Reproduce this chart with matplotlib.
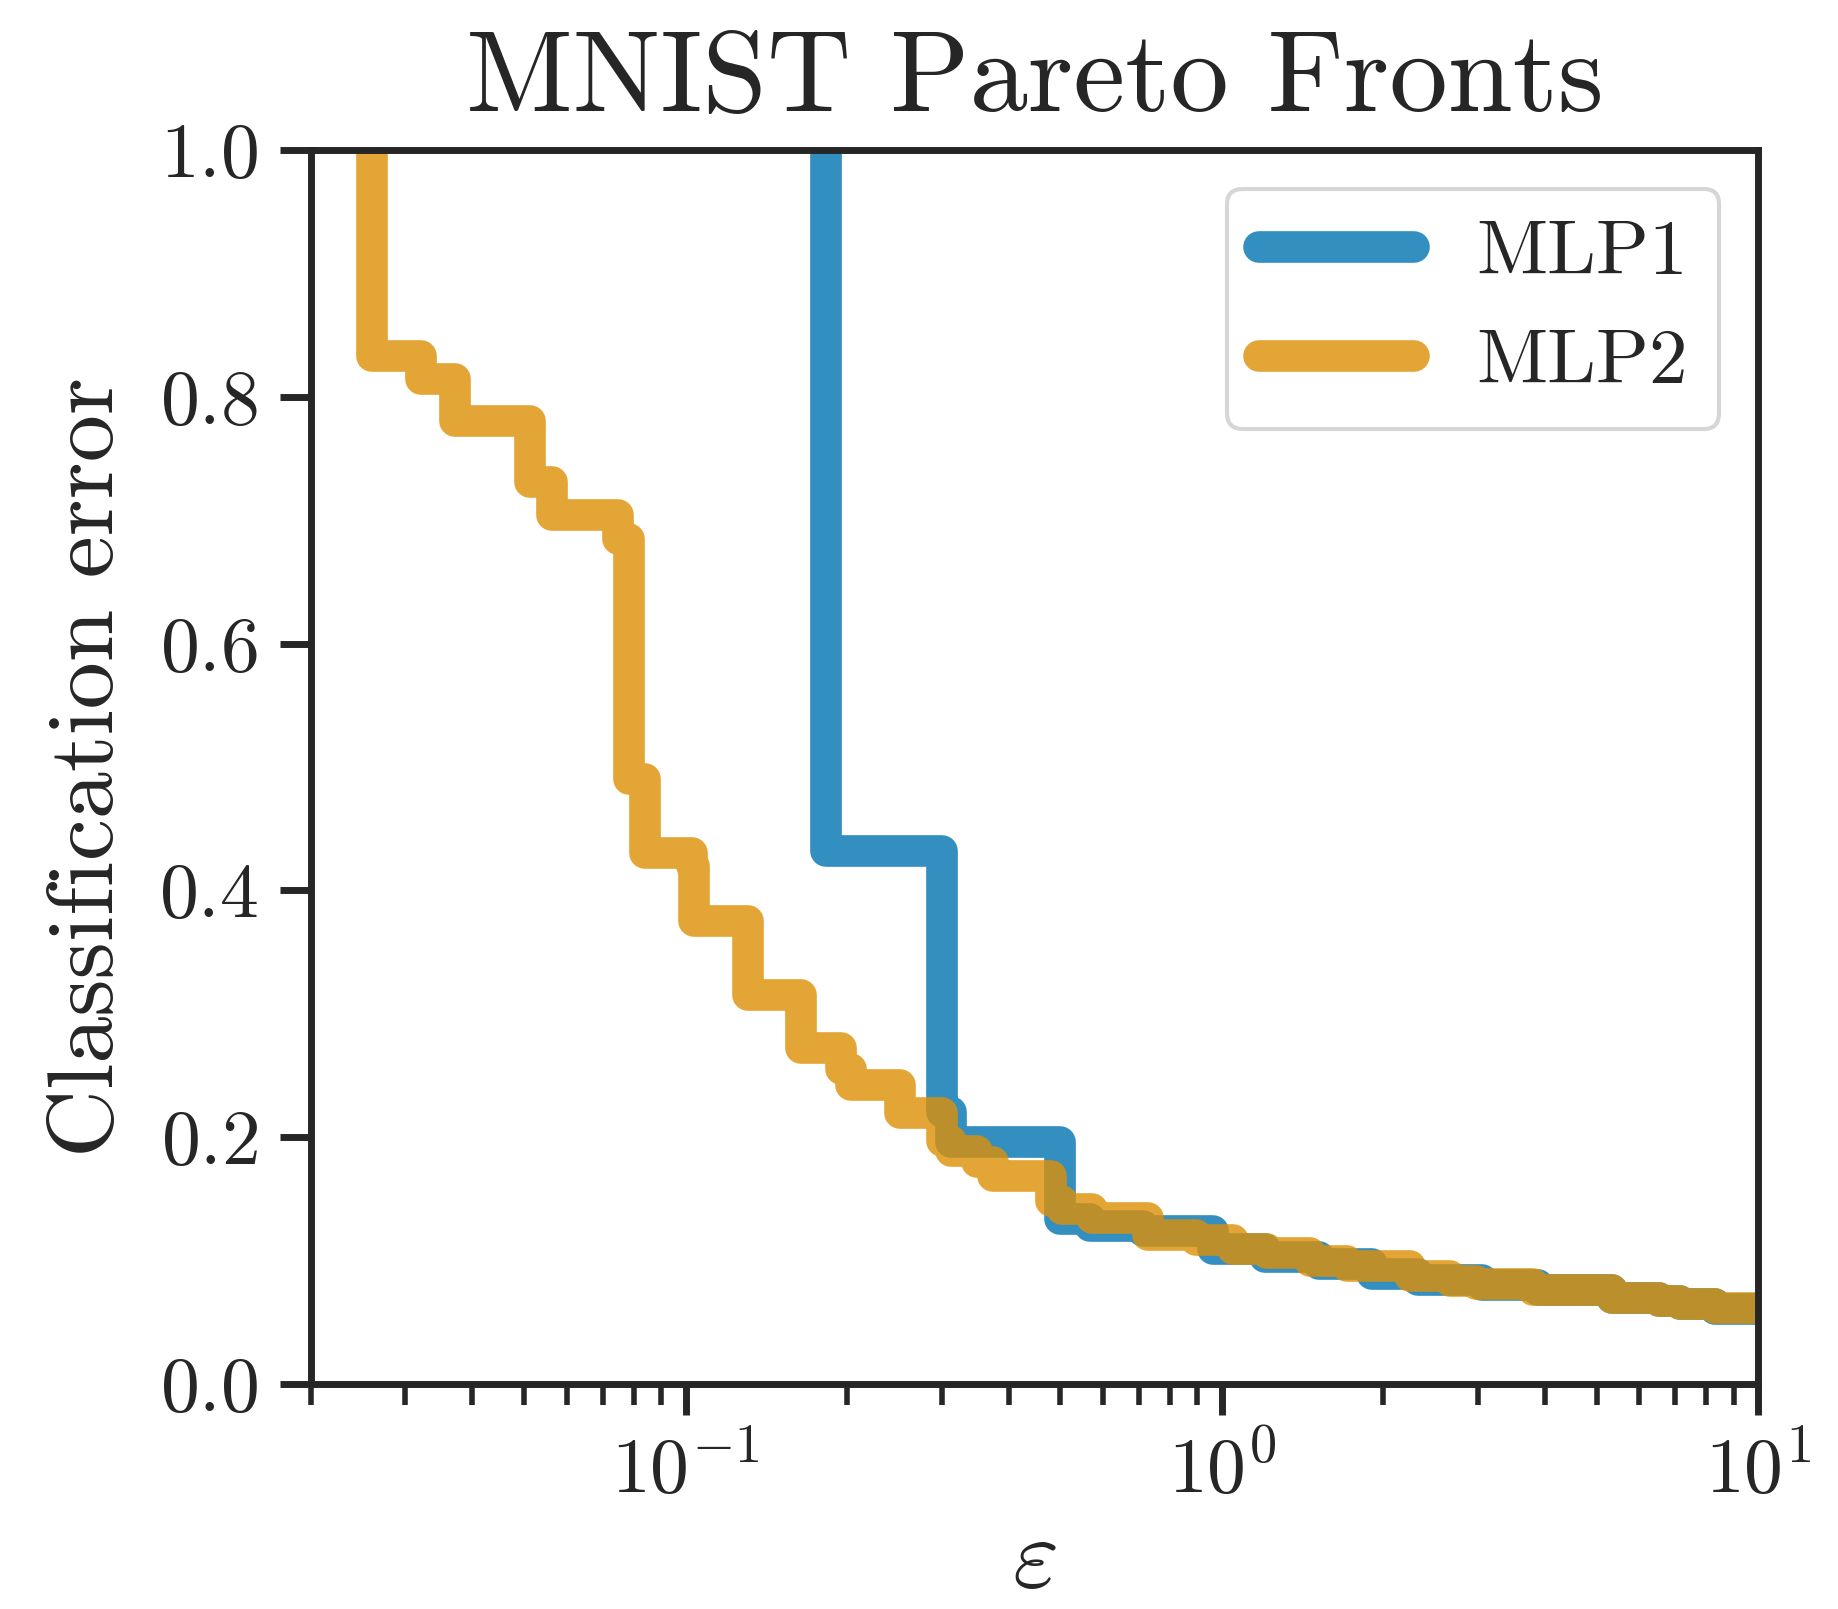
import matplotlib
matplotlib.use('Agg')
import matplotlib.pyplot as plt

# Pareto fronts: epsilon where each drop happens, error level after it
mlp1_eps = [0.183, 0.301, 0.312, 0.500, 0.567, 0.712, 0.964, 1.205, 1.519, 1.905,
            2.326, 3.053, 3.886, 5.34, 6.53, 7.16, 8.32, 10.0]
mlp1_err = [1.0, 0.432, 0.220, 0.196, 0.134, 0.128, 0.124, 0.109, 0.103, 0.097,
            0.089, 0.084, 0.0805, 0.076, 0.070, 0.067, 0.065, 0.061]

mlp2_eps = [0.0260, 0.0321, 0.0371, 0.0512, 0.0562, 0.0749, 0.0785, 0.0841, 0.1026, 0.1035,
            0.1306, 0.1641, 0.195, 0.203, 0.2508, 0.301, 0.312, 0.349, 0.374, 0.481,
            0.503, 0.572, 0.7296, 0.895, 1.05, 1.212, 1.459, 1.708, 2.241, 2.66,
            2.982, 3.80, 5.34, 6.53, 7.16, 8.32, 10.0]
mlp2_err = [1.0, 0.833, 0.814, 0.780, 0.731, 0.704, 0.685, 0.490, 0.430, 0.420,
            0.375, 0.315, 0.272, 0.255, 0.242, 0.2195, 0.197, 0.189, 0.1795, 0.1686,
            0.148, 0.1416, 0.1348, 0.121, 0.1167, 0.1094, 0.1059, 0.0997, 0.0956, 0.0875,
            0.0835, 0.0808, 0.0762, 0.0700, 0.0673, 0.0648, 0.0613]

names = ['MLP1', 'MLP2']
colors = ['#0173B2', '#DE8F05']

ink = '#262626'
plt.rcParams.update({
    'font.family': ['cmr10', 'DejaVu Serif'],
    'mathtext.fontset': 'cm',
    'axes.formatter.use_mathtext': True,
    'text.color': ink,
    'axes.edgecolor': ink,
    'axes.labelcolor': ink,
    'xtick.color': ink,
    'ytick.color': ink,
    'axes.linewidth': 2.5,
    'xtick.major.width': 2.5,
    'ytick.major.width': 2.5,
    'xtick.minor.width': 2.0,
    'xtick.major.size': 11,
    'ytick.major.size': 11,
    'xtick.minor.size': 7.5,
    'xtick.direction': 'out',
    'ytick.direction': 'out',
})

fig = plt.figure(figsize=(9.19, 8.045), dpi=200)
ax = fig.add_axes([0.1692, 0.1399, 0.7873, 0.7669])

for eps, err, name, c in zip([mlp1_eps, mlp2_eps], [mlp1_err, mlp2_err], names, colors):
    ax.step(eps, err, where='pre', color=c, alpha=0.8, lw=11.4,
            solid_capstyle='round', solid_joinstyle='round', label=name)

ax.set_xscale('log')
ax.set_xlim(0.02, 10)
ax.set_ylim(0, 1)
ax.set_yticks([0.0, 0.2, 0.4, 0.6, 0.8, 1.0])
ax.tick_params(axis='both', labelsize=28)
ax.tick_params(axis='y', pad=8)
ax.tick_params(axis='x', which='major', pad=7)

ax.set_title('MNIST Pareto Fronts', fontsize=42, pad=14)
ax.set_ylabel('Classification error', fontsize=34, labelpad=10)
ax.set_xlabel(r'$\varepsilon$', fontsize=36, labelpad=3)

leg = ax.legend(loc='upper right', fontsize=28, fancybox=True, framealpha=0.8,
                edgecolor='#cccccc')
leg.get_frame().set_linewidth(1.5)
for h in leg.get_lines():
    h.set_solid_capstyle('round')

fig.savefig('out.png', dpi=200)
